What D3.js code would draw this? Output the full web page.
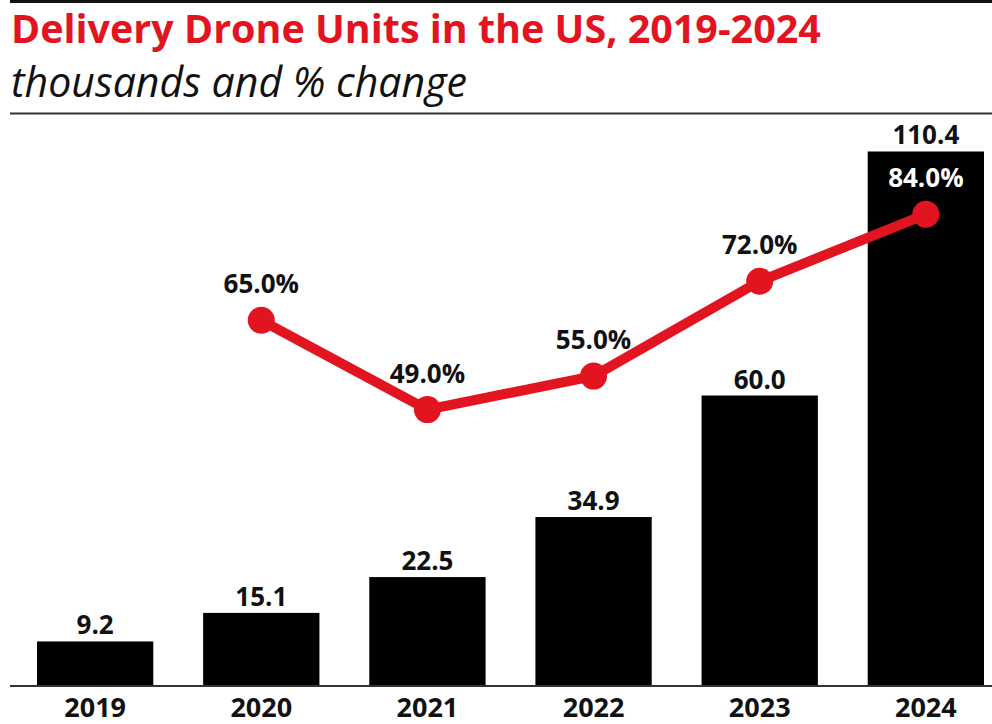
<!DOCTYPE html>
<html>
<head>
<meta charset="utf-8">
<script src="https://cdn.jsdelivr.net/npm/d3@7"></script>
<style>
  html, body { margin: 0; padding: 0; background: #fff; }
  svg { display: block; }
</style>
</head>
<body>
<svg id="chart" width="992" height="724"></svg>
<script>
const years = ["2019", "2020", "2021", "2022", "2023", "2024"];
const units = [9.2, 15.1, 22.5, 34.9, 60.0, 110.4];
const pctChange = [null, 65.0, 49.0, 55.0, 72.0, 84.0];
const unitLabels = ["9.2", "15.1", "22.5", "34.9", "60.0", "110.4"];
const pctLabels = [null, "65.0%", "49.0%", "55.0%", "72.0%", "84.0%"];

const RED = "#e2141f";
const FONT = "'Open Sans', Lato, sans-serif";
const svg = d3.select("#chart");

function fitWidth(sel, target) {
  const w = sel.node().getComputedTextLength();
  const fs = parseFloat(sel.attr("font-size"));
  sel.attr("font-size", (fs * target / w).toFixed(2));
}

// top rule
svg.append("rect").attr("x", 10).attr("y", 0).attr("width", 982).attr("height", 3).attr("fill", "#111");

const title = svg.append("text")
  .attr("x", 11).attr("y", 43)
  .attr("font-family", FONT).attr("font-weight", 700).attr("font-size", 32)
  .attr("fill", RED)
  .text("Delivery Drone Units in the US, 2019-2024");
fitWidth(title, 810);

const sub = svg.append("text")
  .attr("x", 11).attr("y", 97)
  .attr("font-family", FONT).attr("font-style", "italic").attr("font-weight", 400).attr("font-size", 34)
  .attr("fill", "#111")
  .text("thousands and % change");
fitWidth(sub, 456);

svg.append("line").attr("x1", 10).attr("x2", 992).attr("y1", 113.5).attr("y2", 113.5)
  .attr("stroke", "#333").attr("stroke-width", 2);

const x = d3.scaleBand().domain(years).range([37, 984]).paddingInner(0.3).paddingOuter(0);
const y = d3.scaleLinear().domain([0, 120]).range([686, 105]);
const yp = d3.scaleLinear().domain([0, 100]).range([683, 125]);

const data = years.map((yr, i) => ({ yr, v: units[i], vl: unitLabels[i], p: pctChange[i], pl: pctLabels[i] }));

// bars
svg.append("g").selectAll("rect").data(data).join("rect")
  .attr("x", d => x(d.yr)).attr("width", x.bandwidth())
  .attr("y", d => y(d.v)).attr("height", d => y(0) - y(d.v))
  .attr("fill", "#000");

// bar value labels
svg.append("g").selectAll("text").data(data).join("text")
  .attr("x", d => x(d.yr) + x.bandwidth() / 2)
  .attr("y", d => y(d.v) - 7)
  .attr("text-anchor", "middle")
  .attr("font-family", FONT).attr("font-weight", 700).attr("font-size", 26)
  .attr("fill", "#111")
  .text(d => d.vl);

// baseline axis
const xAxis = d3.axisBottom(x).tickSize(0).tickPadding(0);
const ax = svg.append("g").attr("transform", "translate(0,686)").call(xAxis);
ax.select(".domain").remove();
ax.selectAll("text")
  .attr("y", 31).attr("dy", 0)
  .attr("font-family", FONT).attr("font-weight", 700).attr("font-size", 27)
  .attr("fill", "#111");
svg.append("line").attr("x1", 10).attr("x2", 992).attr("y1", 686).attr("y2", 686)
  .attr("stroke", "#333").attr("stroke-width", 2);

// line
const pdata = data.filter(d => d.p != null);
const line = d3.line().x(d => x(d.yr) + x.bandwidth() / 2).y(d => yp(d.p));
svg.append("path").datum(pdata).attr("d", line)
  .attr("fill", "none").attr("stroke", RED).attr("stroke-width", 10)
  .attr("stroke-linejoin", "round");
svg.append("g").selectAll("circle").data(pdata).join("circle")
  .attr("cx", d => x(d.yr) + x.bandwidth() / 2).attr("cy", d => yp(d.p))
  .attr("r", 13.5).attr("fill", RED);

svg.append("g").selectAll("text").data(pdata).join("text")
  .attr("x", d => x(d.yr) + x.bandwidth() / 2)
  .attr("y", d => yp(d.p) - 27)
  .attr("text-anchor", "middle")
  .attr("font-family", FONT).attr("font-weight", 700).attr("font-size", 26)
  .attr("fill", d => (yp(d.p) - 36 > y(d.v)) ? "#fff" : "#111")
  .text(d => d.pl);
</script>
</body>
</html>
